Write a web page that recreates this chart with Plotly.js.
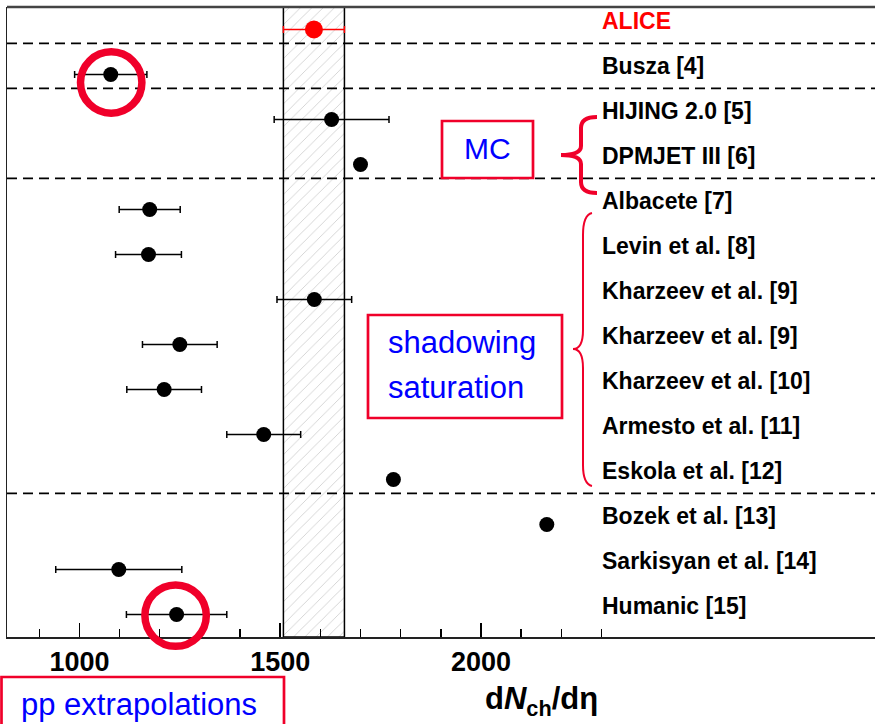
<!DOCTYPE html>
<html>
<head>
<meta charset="utf-8">
<script src="https://cdn.plot.ly/plotly-3.0.1.min.js"></script>
<style>html,body{margin:0;padding:0;background:#fff;}#chart{width:875px;height:724px;}</style>
</head>
<body>
<div id="chart"></div>
<script>
// ---- data ----
const labels = ["ALICE","Busza [4]","HIJING 2.0 [5]","DPMJET III [6]","Albacete [7]","Levin et al. [8]",
  "Kharzeev et al. [9]","Kharzeev et al. [9]","Kharzeev et al. [10]","Armesto et al. [11]",
  "Eskola et al. [12]","Bozek et al. [13]","Sarkisyan et al. [14]","Humanic [15]"];
const aliceValue = 1584;
const aliceError = 76;
const modelValues = [1078,1628,1700,1175,1172,1585,1250,1211,1459,1782,2164,1098,1242];
const modelErrors = [90,143,0,76,82,93,93,93,92,0,0,157,125];
const groupBounds = [0.31,1.31,3.31,10.31];
const tickVals = [1000,1500,2000];
const minorTickVals = [900,1100,1200,1300,1400,1600,1700,1800,1900,2100,2200,2300];
const xRange = [819.6, 2981.4];

// ---- geometry helpers ----
const W = 875, H = 724, mL = 7, mR = 0, mT = 7, mB = 87;
const pw = W - mL - mR, ph = H - mT - mB;
const px = p => (p - mL) / pw;        // pixel x -> paper
const py = p => (H - mB - p) / ph;    // pixel y -> paper

const rowsModel = modelValues.map((v,i)=>i+1);
const red = '#f0002a';
const sans = '"Liberation Sans", Arial, sans-serif';

const band = {
  x: [aliceValue-aliceError, aliceValue+aliceError, aliceValue+aliceError, aliceValue-aliceError, aliceValue-aliceError],
  y: [-0.5,-0.5,13.5,13.5,-0.5],
  mode: 'lines', fill: 'toself',
  line: {color:'#000', width:1.5},
  fillcolor: '#ffffff',
  fillpattern: {shape:'/', fgcolor:'#cccccc', bgcolor:'#ffffff', size:8, solidity:0.1},
  hoverinfo: 'skip', showlegend:false
};
const models = {
  x: modelValues, y: rowsModel, mode:'markers', type:'scatter',
  marker:{color:'#000', size:15},
  error_x:{type:'data', array:modelErrors, visible:true, color:'#000', thickness:1.5, width:3.5},
  showlegend:false
};
const alice = {
  x:[aliceValue], y:[0], mode:'markers', type:'scatter',
  marker:{color:'#ff0000', size:18},
  error_x:{type:'data', array:[aliceError], visible:true, color:'#ff0000', thickness:1.5, width:3.5},
  showlegend:false
};

const shapes = [];
// top frame line
shapes.push({type:'line', xref:'paper', yref:'paper', x0:0, x1:1, y0:1, y1:1, line:{color:'#444', width:2.5}});
groupBounds.forEach(b => shapes.push({type:'line', xref:'paper', yref:'y', x0:0, x1:1, y0:b, y1:b,
  line:{color:'#000', width:1.8, dash:'10px,6px'}}));
// boxes
function rect(x0,y0,x1,y1,w){ shapes.push({type:'rect', xref:'paper', yref:'paper', x0:px(x0), x1:px(x1), y0:py(y1), y1:py(y0), line:{color:red, width:w}, layer:'above'}); }
rect(442,121,533,178,2.7);
rect(368,315,562,418,2.7);
rect(1.5,677,284,760,2.7);
// circles
function circ(cx,cy,r){ shapes.push({type:'circle', xref:'paper', yref:'paper', x0:px(cx-r), x1:px(cx+r), y0:py(cy+r), y1:py(cy-r), line:{color:red, width:7.5}, layer:'above'}); }
circ(111.2,82.5,30.7);
circ(175.6,615.6,30.7);
// braces
function toPaper(d){ return d.replace(/(-?\d+\.?\d*) (-?\d+\.?\d*)/g,(m,a,b)=>px(+a).toFixed(5)+','+py(+b).toFixed(5)); }
shapes.push({type:'path', xref:'paper', yref:'paper', layer:'above', line:{color:red, width:4},
  path: toPaper('M 597 117 Q 581 117 581 128 L 581 146 Q 581 155 561 155 Q 581 155 581 164 L 581 182 Q 581 193 597 193')});
shapes.push({type:'path', xref:'paper', yref:'paper', layer:'above', line:{color:red, width:2},
  path: toPaper('M 592 213 Q 583 215 583 235 L 583 330 Q 583 349 573 349 Q 583 349 583 368 L 583 465 Q 583 484 592 486')});

const annotations = labels.map((t,i)=>({
  x: 2297, y: i - 0.2, xref:'x', yref:'y', xanchor:'left', yanchor:'middle', showarrow:false,
  text: '<b>' + t + '</b>', font:{family:sans, size:23, color: i===0 ? '#ff0000' : '#000'}
}));
annotations.push({x:px(487.5), y:py(149), xref:'paper', yref:'paper', text:'MC', showarrow:false,
  xanchor:'center', yanchor:'middle', font:{family:sans, size:30, color:'#0000ff'}});
annotations.push({x:px(386), y:py(342), xref:'paper', yref:'paper', text:'shadowing', showarrow:false,
  xanchor:'left', yanchor:'middle', font:{family:sans, size:31, color:'#0000ff'}});
annotations.push({x:px(386), y:py(387), xref:'paper', yref:'paper', text:'saturation', showarrow:false,
  xanchor:'left', yanchor:'middle', font:{family:sans, size:31, color:'#0000ff'}});
annotations.push({x:px(19), y:py(704), xref:'paper', yref:'paper', text:'pp extrapolations', showarrow:false,
  xanchor:'left', yanchor:'middle', font:{family:sans, size:31, color:'#0000ff'}});
annotations.push({x:px(541), y:py(701), xref:'paper', yref:'paper', text:'<b>d<i>N</i><sub>ch</sub>/dη</b>', showarrow:false,
  xanchor:'center', yanchor:'middle', font:{family:sans, size:31, color:'#000'}});

const layout = {
  width:W, height:H, margin:{l:mL, r:mR, t:mT, b:mB},
  paper_bgcolor:'#fff', plot_bgcolor:'#fff',
  xaxis:{range:xRange, showgrid:false, zeroline:false, showline:true, linecolor:'#222', linewidth:2, mirror:false,
    ticks:'inside', ticklen:14, tickwidth:1.5, tickcolor:'#000', tickmode:'array', tickvals:tickVals,
    ticktext: tickVals.map(v=>'<b>'+v+'</b>'),
    tickfont:{family:sans, size:27, color:'#000'},
    minor:{tickmode:'array', tickvals:minorTickVals, ticks:'inside', ticklen:8, tickwidth:1.5, tickcolor:'#000', showgrid:false}},
  yaxis:{range:[13.5,-0.5], showgrid:false, zeroline:false, showline:true, linecolor:'#222', linewidth:1.5, showticklabels:false, ticks:''},
  shapes: shapes, annotations: annotations, showlegend:false
};
Plotly.newPlot('chart', [band, models, alice], layout, {staticPlot:true});
</script>
</body>
</html>
